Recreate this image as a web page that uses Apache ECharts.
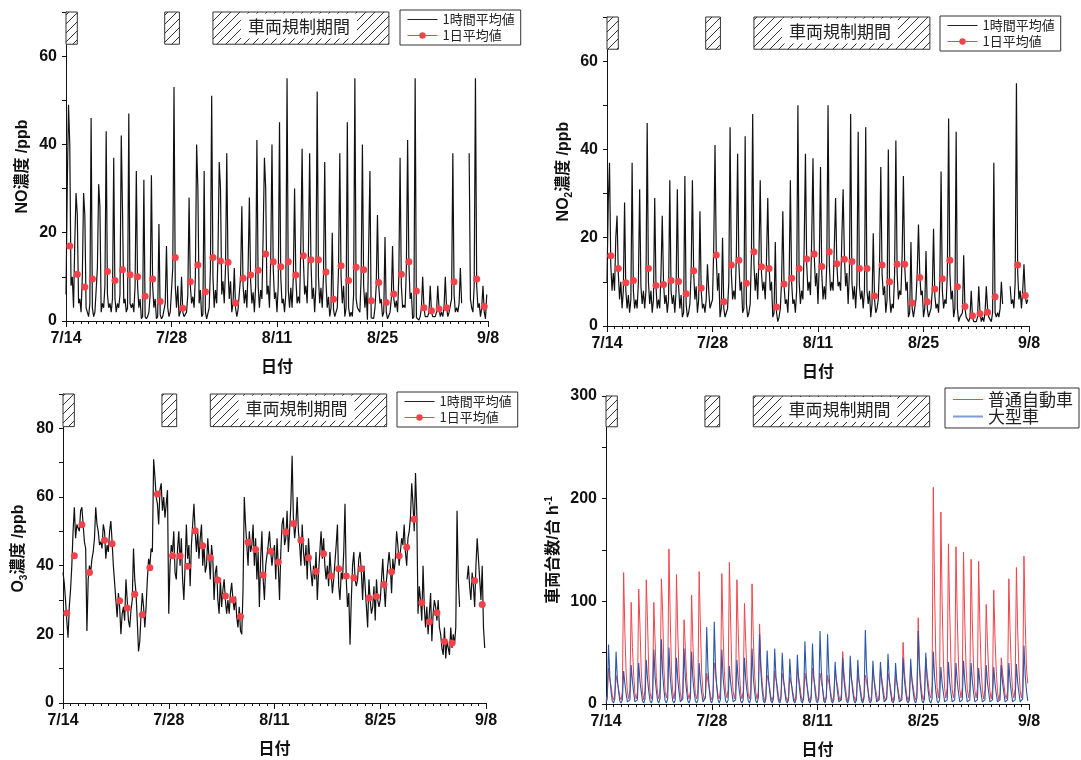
<!DOCTYPE html>
<html><head><meta charset="utf-8">
<script src="https://cdn.jsdelivr.net/npm/echarts@6/dist/echarts.min.js"></script>
<style>html,body{margin:0;padding:0;background:#fff}#c{width:1081px;height:760px}</style>
</head><body><div id="c"></div>
<script>
// ---------- DATA ----------
const dateTickLabels = {0:'7/14',14:'7/28',28:'8/11',42:'8/25',56:'9/8'};
const hoursOfDay = [0,4,8,12,16,20];
const regPeriods = [[0,1.5],[13.1,15.05]];
const regLabelSpan = [19.5,42.85];
const regLabel = '車両規制期間';

// NO hourly (4-hourly samples per day) ppb
const noHourly = [
[6,30,49,40,8,10],[3,18,29,24,4,5],[2,10,29,24,3,2],[1,4,46,3,1,2],[2,12,31,26,2,4],
[3,8,43,6,3,4],[2,5,37,5,2,4],[3,6,42,25,4,5],[2,3,47,4,3,4],[2,8,34,8,3,5],
[0.5,1,32,1,0.5,1],[2,6,33,8,3,5],[0.5,1,22,1.5,0.5,1],[1,4,17,3,1,2],[2,12,53,8,3,8],
[1,2,10,2,1,1.5],[2,6,28,8,4,5.5],[3,10,40,30,4,7],[1,1.5,34,2,0.5,0.6],[3,12,51,10,3,7],
[4,15,36,30,6,9],[4,12,38,12,5,9],[2,4,12,3,1,2.6],[3,10,26,8,4,7],[3,12,28,9,4,6.5],
[2,8,41,8,3,7],[5,20,37,30,6,8],[3,14,40,12,5,6.5],[2,8,45,10,4,5],[2,6,55,7,3,7.5],
[3,10,30,10,4,5.5],[4,18,39,14,6,8],[4,15,38,14,5,7.5],[2,8,52,10,4,7.5],[3,10,36,9,3,5.5],
[1,3,20,2.5,1,2],[3,12,38,10,4,8],[1,3,45,3,1,2],[1,6,55,5,3,3],[2,10,40,8,3,6.5],
[0.3,0.5,34,0.7,0.5,0.6],[3,8,24,8,4,5],[1,2,19,2,0.5,0.7],[2,5,17,5,3,4.6],[2,10,37,8,3,3.6],
[3,12,41,13,5,6.4],[0.5,1,55,0.8,0.5,0.2],[1,3,10,3,1,1],[1,2,8,2,1,1],[1,2,8,3,1,2],
[1,3,10,3,1,2],[2,5,38,6,2,3],[2,4,12,4,null,null],[null,null,null,38,5,3],[2,8,55,8,3,4],
[1,3,8,2,0.5,6]
];
const noDaily = [17.0,10.6,7.7,9.5,null,11.2,9.2,11.6,10.5,10.0,5.6,9.5,4.4,null,14.4,2.9,8.9,12.7,6.6,14.4,
13.6,13.3,4.1,9.7,10.4,11.5,15.2,13.4,12.3,13.4,10.4,14.8,13.9,13.9,11.1,4.9,12.5,9.2,12.2,11.6,
4.6,8.7,4.2,6.1,10.6,13.4,6.8,3.0,2.3,2.7,3.0,8.9,null,null,9.5,3.3];

// NO2 hourly (4-hourly samples per day) ppb
const no2Hourly = [
[10,28,37,14,8,12],[8,20,25,12,6,10],[4,8,28,8,4,7],[3,6,37,8,4,6],[4,10,31,9,5,8],
[4,8,46,10,5,8],[3,6,29,9,4,6],[4,12,25,10,5,7],[3,6,33,8,5,7],[3,8,31,9,4,7],
[2,3,34,5,2,3],[5,12,33,12,6,9],[3,6,26,8,4,5],[3,6,14,8,4,5],[6,18,41,16,8,12],
[2,4,20,4,2,3],[4,10,45,12,6,8],[6,16,39,14,8,10],[3,4,43,5,2,3],[5,16,48,14,8,12],
[6,16,33,12,8,10],[6,15,29,14,8,10],[2,3,19,3,1,2],[4,10,26,9,5,6],[3,10,33,10,5,6],
[3,8,50,10,5,8],[6,18,39,14,8,10],[7,20,38,16,9,12],[5,14,36,12,6,9],[6,14,50,14,8,10],
[8,18,29,14,9,10],[8,20,31,16,9,12],[5,12,48,10,6,9],[4,10,44,9,6,8],[4,8,45,8,5,8],
[2,5,21,6,3,4],[6,14,36,12,7,9],[3,6,40,7,3,5],[4,12,42,12,6,8],[7,16,34,14,8,10],
[2,3,19,4,2,2],[6,12,23,12,7,8],[2,4,17,4,2,3],[4,8,22,7,4,5],[3,10,35,8,4,6],
[5,12,47,12,6,8],[2,4,44,4,1,2],[2,3,16,4,2,2],[1,2,8,2,1,1],[1,2,9,3,1,2],
[1,3,9,4,2,2],[1,3,37,3,2,3],[2,4,10,5,null,null],[null,null,null,9,5,6],[4,10,55,12,6,8],
[4,8,14,7,5,6]
];
const no2Daily = [15.9,13.0,9.8,10.3,null,13.0,9.2,9.4,10.3,10.1,7.3,12.5,8.6,null,16.1,5.5,13.8,14.9,9.7,16.8,
13.4,13.0,4.3,9.5,10.8,13.0,15.2,16.3,13.5,16.8,14.1,15.1,14.6,13.0,13.0,6.8,13.8,10.0,14.0,14.0,
5.2,11.0,5.5,8.4,10.7,14.9,8.9,4.4,2.3,2.8,3.1,6.6,null,null,13.8,6.9];

// O3 hourly (4-hourly samples per day) ppb
const o3Hourly = [
[38,35,30,24,19,28],[33,40,50,57,48,52],[52,50,56,57,52,47],[45,21,36,40,38,42],[44,48,57,52,50,46],
[47,45,52,50,42,46],[44,50,53,47,40,35],[30,25,32,28,20,26],[28,24,36,30,24,22],[27,30,45,36,32,24],
[15,18,26,32,28,22],[28,36,42,40,45,44],[71,66,60,58,52,62],[64,56,60,54,58,62],[26,40,46,44,50,38],
[36,45,50,40,48,36],[30,40,52,42,46,34],[46,52,58,50,44,50],[42,48,52,40,46,38],[40,48,42,36,46,42],
[30,38,40,30,26,36],[28,33,36,30,26,30],[26,32,35,30,27,31],[25,22,28,21,20,33],[60,52,46,40,50,44],
[46,52,40,48,36,44],[28,42,50,36,30,40],[40,46,50,44,40,44],[46,36,48,40,30,44],[52,54,46,48,56,44],
[50,58,72,54,48,52],[60,50,46,40,52,44],[40,46,36,48,42,38],[34,40,36,44,30,38],[44,50,42,48,40,36],
[40,34,44,38,32,36],[36,46,52,34,30,38],[36,44,58,36,28,32],[17,30,40,44,36,34],[36,42,44,38,30,40],
[34,28,22,36,30,26],[28,34,24,36,30,28],[30,36,42,34,28,36],[36,44,40,32,42,38],[42,50,46,40,44,48],
[46,52,44,40,48,50],[54,64,58,50,67,56],[26,34,30,24,40,28],[22,28,20,26,32,18],[26,30,28,24,30,22],
[20,16,14,22,13,18],[18,14,22,16,20,17],[22,56,36,28,null,null],[null,null,null,36,40,34],[30,38,34,28,40,48],
[42,36,30,40,22,16]
];
const o3Daily = [26.2,42.9,51.9,38.0,null,47.4,46.4,29.8,27.7,31.7,25.7,39.4,60.9,null,42.9,42.8,39.8,50.2,45.8,42.4,
35.8,31.2,30.1,25.2,46.8,44.7,37.3,44.2,41.1,49.9,52.3,47.4,42.3,38.3,43.5,37.0,39.1,37.0,36.5,39.1,
30.6,31.0,34.5,38.2,42.9,45.4,53.5,29.2,23.7,26.3,17.9,17.5,null,null,35.6,28.7];

// Traffic hourly (4-hourly samples per day) vehicles/h
const carHourly = [
[3,8,35,24,18,8],[4,9,28,20,15,7],[4,12,128,70,30,12],[5,14,99,55,28,10],[5,12,112,75,32,12],
[4,14,121,80,30,11],[5,12,99,60,26,10],[5,16,122,90,34,12],[6,14,151,85,32,12],[5,14,126,70,30,11],
[4,12,82,55,26,10],[5,12,106,60,28,10],[5,14,129,75,30,12],[4,8,30,22,16,8],[4,10,40,28,18,8],
[5,16,127,70,32,12],[6,14,138,80,30,12],[5,14,121,72,30,11],[5,12,98,60,28,10],[5,14,117,66,30,11],
[5,12,78,40,22,9],[3,8,28,22,16,7],[3,9,32,24,18,8],[3,8,30,22,16,7],[3,7,26,20,15,7],
[3,9,35,26,18,8],[3,8,30,22,16,7],[3,9,35,25,18,8],[3,8,30,22,16,7],[3,8,28,21,15,7],
[3,8,32,24,17,8],[3,10,51,30,18,8],[3,9,35,25,17,8],[3,8,30,22,16,7],[3,8,28,21,15,7],
[3,8,32,24,16,8],[3,9,35,25,17,8],[3,8,30,22,16,7],[3,8,28,21,15,7],[3,10,60,32,18,8],
[3,9,35,25,17,8],[4,12,84,40,22,10],[4,10,45,30,20,9],[6,18,211,110,45,16],[6,18,187,100,42,15],
[6,16,156,90,40,14],[6,16,153,85,38,14],[6,16,148,80,36,14],[6,15,141,78,35,13],[6,15,139,76,35,13],
[5,14,97,60,30,12],[5,14,111,65,32,12],[4,10,45,30,20,9],[5,14,122,70,32,12],[6,15,133,72,34,13],
[6,15,144,80,35,20]
];
const truckHourly = [
[1,5,58,28,12,3],[1,5,51,25,12,3],[1,4,32,20,10,2],[1,4,38,22,11,2],[1,4,40,22,12,3],
[1,5,43,24,12,3],[1,5,53,26,13,3],[1,6,63,30,14,3],[1,5,55,27,13,3],[1,4,45,24,12,2],
[1,5,54,26,13,3],[1,5,51,25,12,3],[1,4,40,22,11,2],[1,6,75,34,15,3],[1,6,80,36,16,4],
[1,5,53,26,13,3],[1,4,37,21,11,2],[1,4,43,23,12,3],[1,4,45,24,12,3],[1,5,54,26,13,3],
[1,6,68,32,14,3],[1,5,52,26,13,3],[1,5,54,27,13,3],[1,5,50,25,12,3],[1,4,44,23,12,3],
[1,5,48,24,12,3],[1,5,61,29,14,3],[1,5,59,28,13,3],[1,6,71,33,15,3],[1,6,68,32,14,3],
[1,4,41,22,11,2],[1,4,45,24,12,3],[1,5,47,24,12,3],[1,4,43,23,12,3],[1,6,72,33,15,3],
[1,4,42,22,11,2],[1,4,41,22,11,2],[1,5,49,25,12,3],[1,4,40,22,11,2],[1,4,45,24,12,3],
[1,4,44,23,12,3],[1,6,71,33,15,3],[1,5,50,25,12,3],[1,5,51,26,13,3],[1,4,36,20,11,2],
[1,4,41,22,11,2],[1,4,40,22,11,2],[1,4,42,22,11,2],[1,4,40,22,11,2],[1,4,35,20,10,2],
[1,4,38,21,11,2],[1,4,36,20,10,2],[1,4,38,21,11,2],[1,4,40,22,11,2],[1,4,39,21,11,2],
[1,5,57,28,13,3]
];

// ---------- BUILD ----------
function toPairs(days){const out=[];days.forEach((d,k)=>d.forEach((v,j)=>out.push([k+hoursOfDay[j]/24,v])));return out;}
function dayPairs(arr){return arr.map((v,k)=>[k+0.5,v]);}

const hatchImg=(function(){const s=9,c=document.createElement('canvas');c.width=s;c.height=s;const g=c.getContext('2d');
g.fillStyle='#fff';g.fillRect(0,0,s,s);g.strokeStyle='#333';g.lineWidth=1;g.beginPath();
g.moveTo(0,s);g.lineTo(s,0);g.moveTo(-2,2);g.lineTo(2,-2);g.moveTo(s-2,s+2);g.lineTo(s+2,s-2);g.stroke();return c;})();

const JP="'Noto Sans CJK JP'";
const NUM="'Liberation Sans','Noto Sans CJK JP'";
const BLACK='#111111', RED='#f2434b', BLUE='#2b58a8';

function regAreas(yLo,yHi){
  return {silent:true,
    itemStyle:{color:{image:hatchImg,repeat:'repeat'},borderColor:'#333',borderWidth:1},
    label:{show:false},
    data:[
      ...regPeriods.map(p=>[{xAxis:p[0],yAxis:yLo},{xAxis:p[1],yAxis:yHi}]),
      [{xAxis:regLabelSpan[0],yAxis:yLo,name:regLabel,
        label:{show:true,position:'inside',formatter:regLabel,color:'#222',fontSize:17,fontFamily:JP,
          backgroundColor:'#fff',padding:[5,7,3,7],offset:[-2,-2]}},
       {xAxis:regLabelSpan[1],yAxis:yHi}]
    ]};
}

const grids=[
  {left:66,top:12,width:422,height:309},
  {left:607,top:17,width:422,height:309},
  {left:63,top:394,width:423,height:309},
  {left:606,top:396,width:423,height:308}
];
function xAx(i){return {type:'value',gridIndex:i,min:0,max:56,interval:14,
  axisLine:{show:true,onZero:false,lineStyle:{color:'#111',width:1}},
  axisTick:{show:true,length:6,lineStyle:{color:'#111'}},
  minorTick:{show:true,splitNumber:14,length:3,lineStyle:{color:'#111'}},
  splitLine:{show:false},minorSplitLine:{show:false},
  axisLabel:{margin:10,color:'#111',fontSize:16,fontWeight:'bold',fontFamily:NUM,formatter:v=>dateTickLabels[v]||''},
  name:'日付',nameLocation:'middle',nameGap:37,
  nameTextStyle:{color:'#111',fontSize:16,fontWeight:'bold',fontFamily:JP}};}
function yAx(i,max,interval,labelStep,name,gap,rich){return {type:'value',gridIndex:i,min:0,max:max,interval:interval,
  axisLine:{show:true,onZero:false,lineStyle:{color:'#111',width:1}},
  axisTick:{show:true,length:4,lineStyle:{color:'#111'}},
  splitLine:{show:false},
  axisLabel:{margin:9,color:'#111',fontSize:16,fontWeight:'bold',fontFamily:NUM,formatter:v=>(v%labelStep===0?String(v):'')},
  name:name,nameLocation:'middle',nameGap:gap,nameRotate:90,
  nameTextStyle:{color:'#111',fontSize:16,fontWeight:'bold',fontFamily:NUM,lineHeight:20,rich:rich||{}}};}

const subRich={s:{fontSize:10,lineHeight:10,fontWeight:'bold',fontFamily:NUM,color:'#111',verticalAlign:'bottom'}};
const supRich={p:{fontSize:10,lineHeight:10,fontWeight:'bold',fontFamily:NUM,color:'#111',verticalAlign:'top'}};

function hourlySeries(i,name,days,color,width,area){
  const s={type:'line',name:name,xAxisIndex:i,yAxisIndex:i,data:toPairs(days),symbol:'none',showSymbol:false,
    connectNulls:false,lineStyle:{color:color,width:width},itemStyle:{color:color},z:2,animation:false};
  if(area) s.markArea=area;
  return s;
}
function dailySeries(i,name,vals){
  return {type:'line',name:name,xAxisIndex:i,yAxisIndex:i,data:dayPairs(vals),symbol:'circle',symbolSize:7,
    showSymbol:true,connectNulls:false,lineStyle:{opacity:0,width:1,color:RED},itemStyle:{color:RED},z:5,animation:false};
}
function legendFor(left,top,items,fs,gap){
  return {show:true,orient:'vertical',left:left,top:top,itemGap:gap,itemWidth:30,itemHeight:8,
    padding:[3,6,3,7],borderColor:'#333',borderWidth:1,backgroundColor:'#fff',
    textStyle:{fontSize:fs,color:'#222',fontFamily:JP},
    data:items};
}
const lineOnly=(name,color)=>({name:name,icon:'rect',itemStyle:{color:color,opacity:1},
  itemHeight:1});
const avgLegend=[
  {name:'1時間平均値',itemStyle:{opacity:0},lineStyle:{opacity:1,width:1,color:'#222'}},
  {name:'1日平均値',lineStyle:{opacity:1,width:1,color:RED}}
];
const trafficLegend=[
  {name:'普通自動車',itemStyle:{opacity:0},lineStyle:{opacity:1,width:1,color:RED}},
  {name:'大型車',itemStyle:{opacity:0},lineStyle:{opacity:1,width:2,color:'#7d9cd2'}}
];

const option={
  animation:false,backgroundColor:'#fff',
  grid:grids,
  xAxis:[xAx(0),xAx(1),xAx(2),xAx(3)],
  yAxis:[
    yAx(0,70,10,20,'NO濃度 /ppb',33),
    yAx(1,70,10,20,'NO{s|2}濃度 /ppb',33,subRich),
    yAx(2,90,10,20,'O{s|3}濃度 /ppb',34,subRich),
    yAx(3,300,50,100,'車両台数/台 h{p|-1}',42,supRich)
  ],
  legend:[
    legendFor(400,10,avgLegend,13,3),
    legendFor(940,16,avgLegend,13,3),
    legendFor(397,392,avgLegend,13,3),
    legendFor(945,388,trafficLegend,17,0)
  ],
  series:[
    hourlySeries(0,'1時間平均値',noHourly,BLACK,1.2,regAreas(62.7,70)),
    dailySeries(0,'1日平均値',noDaily),
    hourlySeries(1,'1時間平均値',no2Hourly,BLACK,1.2,regAreas(62.7,70)),
    dailySeries(1,'1日平均値',no2Daily),
    hourlySeries(2,'1時間平均値',o3Hourly,BLACK,1.2,regAreas(80.5,90)),
    dailySeries(2,'1日平均値',o3Daily),
    hourlySeries(3,'普通自動車',carHourly,RED,1,regAreas(270,300)),
    hourlySeries(3,'大型車',truckHourly,BLUE,1.1,null)
  ]
};
const chart=echarts.init(document.getElementById('c'),null,{renderer:'canvas'});
chart.setOption(option);
</script>
</body></html>
